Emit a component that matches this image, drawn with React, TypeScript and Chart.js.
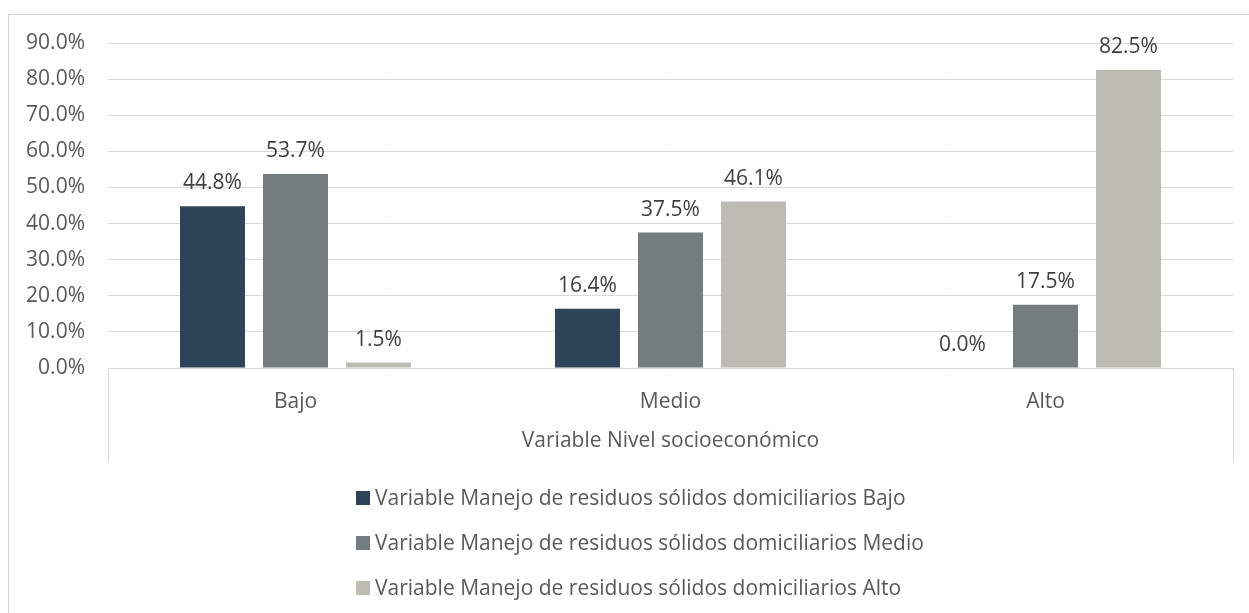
import React, { useEffect, useRef } from "react";
import { Chart, registerables } from "chart.js";

Chart.register(...registerables);

const categories = ["Bajo", "Medio", "Alto"];
const seriesNames = [
  "Variable Manejo de residuos sólidos domiciliarios Bajo",
  "Variable Manejo de residuos sólidos domiciliarios Medio",
  "Variable Manejo de residuos sólidos domiciliarios Alto",
];
const serieBajo = [44.8, 16.4, 0.0];
const serieMedio = [53.7, 37.5, 17.5];
const serieAlto = [1.5, 46.1, 82.5];
const seriesColors = ["#2F4459", "#747C7F", "#BCBCB4"];
const axisTitle = "Variable Nivel socioeconómico";
const yMin = 0;
const yMax = 90;
const yStep = 10;

const FONT = "'Open Sans', sans-serif";
const FS = 21;
const TEXT = "#595959";
const LINE = "#D9D9D9";

export default function App() {
  const ref = useRef<HTMLCanvasElement | null>(null);

  useEffect(() => {
    if (!ref.current) return;
    const decor = {
      id: "decor",
      beforeDraw(chart: any) {
        const ctx = chart.ctx;
        ctx.save();
        ctx.fillStyle = "#fff";
        ctx.fillRect(0, 0, chart.width, chart.height);
        ctx.strokeStyle = LINE;
        ctx.lineWidth = 1;
        ctx.strokeRect(8.5, 14.5, 1260, 700);
        ctx.restore();
      },
      afterDatasetsDraw(chart: any) {
        const ctx = chart.ctx;
        ctx.save();
        ctx.font = `${FS}px ${FONT}`;
        ctx.fillStyle = "#404040";
        ctx.textAlign = "center";
        ctx.textBaseline = "alphabetic";
        chart.data.datasets.forEach((ds: any, di: number) => {
          const meta = chart.getDatasetMeta(di);
          meta.data.forEach((bar: any, i: number) => {
            ctx.fillText(ds.data[i].toFixed(1) + "%", bar.x, bar.y - 17);
          });
        });
        ctx.restore();
      },
      afterDraw(chart: any) {
        const ctx = chart.ctx;
        const area = chart.chartArea;
        const xs = chart.scales.x;
        ctx.save();
        ctx.strokeStyle = LINE;
        ctx.lineWidth = 1;
        ctx.beginPath();
        ctx.moveTo(Math.round(area.left) + 0.5, area.bottom);
        ctx.lineTo(Math.round(area.left) + 0.5, area.bottom + 94);
        ctx.moveTo(Math.round(area.right) + 0.5, area.bottom);
        ctx.lineTo(Math.round(area.right) + 0.5, area.bottom + 94);
        ctx.stroke();
        ctx.font = `${FS}px ${FONT}`;
        ctx.fillStyle = TEXT;
        ctx.textAlign = "center";
        ctx.textBaseline = "alphabetic";
        categories.forEach((c, i) => {
          ctx.fillText(c, xs.getPixelForValue(i), area.bottom + 40);
        });
        ctx.fillText(axisTitle, (area.left + area.right) / 2, area.bottom + 79);
        ctx.textAlign = "left";
        seriesNames.forEach((n, i) => {
          const base = 505 + i * 45;
          ctx.fillStyle = seriesColors[i];
          ctx.fillRect(356, base - 14, 14, 14);
          ctx.fillStyle = TEXT;
          ctx.fillText(n, 375, base);
        });
        ctx.restore();
      },
    };

    const chart = new Chart(ref.current, {
      type: "bar",
      data: {
        labels: categories,
        datasets: [serieBajo, serieMedio, serieAlto].map((d, i) => ({
          label: seriesNames[i],
          data: d,
          backgroundColor: seriesColors[i],
          borderWidth: 0,
          categoryPercentage: 0.664,
          barPercentage: 0.783,
        })),
      },
      options: {
        responsive: false,
        animation: false,
        layout: { padding: { left: 0, right: 16, top: 43, bottom: 245 } },
        plugins: { legend: { display: false }, tooltip: { enabled: false } },
        scales: {
          x: { display: false },
          y: {
            min: yMin,
            max: yMax,
            border: { display: false },
            grid: { color: LINE, lineWidth: 1, drawTicks: false },
            afterFit(scale: any) {
              scale.width = 108;
            },
            ticks: {
              stepSize: yStep,
              padding: 23,
              color: TEXT,
              font: { family: FONT, size: FS },
              callback: (v: any) => Number(v).toFixed(1) + "%",
            },
          },
        },
      },
      plugins: [decor],
    });
    return () => chart.destroy();
  }, []);

  return (
    <div style={{ position: "fixed", left: 0, top: 0, width: 1249, height: 613 }}>
      <canvas ref={ref} width={1249} height={613} />
    </div>
  );
}
